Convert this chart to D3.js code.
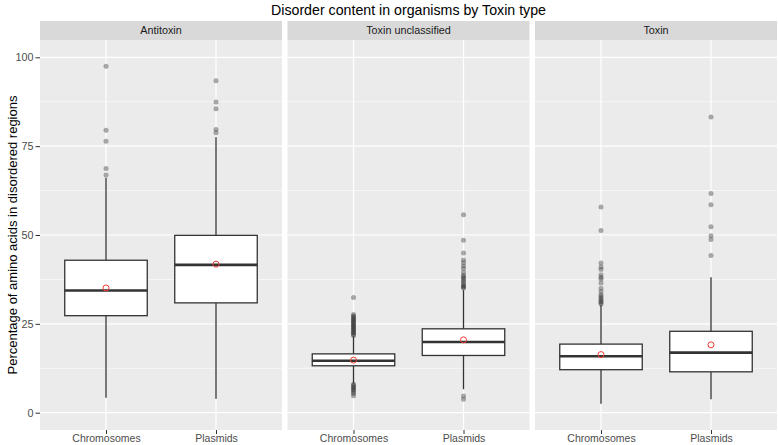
<!DOCTYPE html>
<html><head><meta charset="utf-8">
<script src="https://cdn.jsdelivr.net/npm/d3@7"></script>
<style>body{margin:0;background:#fff}svg{display:block}</style>
</head><body>
<svg id="chart" width="778" height="445"></svg>
<script>
// ---- data ----
const panels = ["Antitoxin", "Toxin unclassified", "Toxin"];
const groups = ["Chromosomes", "Plasmids"];
const yTicks = [0, 25, 50, 75, 100];
const yMinor = [12.5, 37.5, 62.5, 87.5];
// per panel: [Chromosomes, Plasmids]
const whiskerLow  = [[4.2, 3.9], [8.2, 6.6], [2.5, 3.8]];
const q1          = [[27.3, 30.9], [13.2, 16.1], [12.1, 11.5]];
const median      = [[34.4, 41.6], [14.6, 19.9], [15.9, 16.9]];
const q3          = [[42.9, 49.9], [16.55, 23.6], [19.3, 22.9]];
const whiskerHigh = [[66.1, 77.5], [21.5, 34.5], [30.3, 38.1]];
const means       = [[35.1, 41.8], [14.8, 20.5], [16.35, 19.1]];
const outliers = [
  [[66.9, 68.7, 76.4, 79.5, 97.5],
   [78.8, 79.7, 85.5, 87.4, 93.4]],
  [[21.7, 22.0, 22.4, 22.6, 23.0, 23.2, 23.6, 23.8, 24.1, 24.5, 24.7, 25.0, 25.4, 25.6, 26.0, 26.2, 26.6, 26.9, 27.2, 27.6, 32.4,
    8.0, 7.7, 7.3, 7.0, 6.6, 6.3, 5.8, 5.4, 4.8],
   [35.1, 35.3, 35.6, 35.9, 36.4, 36.9, 37.4, 37.8, 38.3, 38.7, 39.5, 40.6, 41.3, 42.2, 43.0, 44.9, 48.5, 55.7,
    4.7, 3.8]],
  [[30.6, 31.0, 31.3, 31.8, 32.2, 32.7, 33.2, 34.1, 35.0, 36.5, 37.6, 38.1, 38.8, 40.3, 41.0, 42.1, 51.3, 57.9],
   [44.2, 48.7, 49.8, 52.3, 58.5, 61.7, 83.2]]
];
const title = "Disorder content in organisms by Toxin type";
const yTitle = "Percentage of amino acids in disordered regions";

// ---- layout ----
const svg = d3.select("#chart");
const font = "'Liberation Sans', Arial, Helvetica, sans-serif";
const panelLeft0 = 40, panelW = 242, panelGap = 5.5;
const panelTop = 40, panelBottom = 430, stripTop = 21;

const y = d3.scaleLinear().domain([-4.87, 104.87]).range([panelBottom, panelTop]);
const x = d3.scalePoint().domain(groups).range([0, panelW]).padding(0.6);
const boxW = x.step() * 0.75;

svg.append("text").attr("x", panelLeft0 + (3 * panelW + 2 * panelGap) / 2).attr("y", 14.5)
  .attr("text-anchor", "middle").attr("font-family", font).attr("font-size", 14.2)
  .attr("fill", "#000").text(title);

svg.append("text")
  .attr("transform", `translate(14,${(panelTop + panelBottom) / 2}) rotate(-90)`)
  .attr("text-anchor", "middle").attr("dominant-baseline", "middle")
  .attr("font-family", font).attr("font-size", 13).attr("fill", "#000").text(yTitle);

// y axis
const yAxis = d3.axisLeft(y).tickValues(yTicks).tickSize(4.5).tickPadding(2);
const ya = svg.append("g").attr("transform", `translate(${panelLeft0},0)`).call(yAxis);
ya.select(".domain").remove();
ya.selectAll(".tick line").attr("stroke", "#333").attr("stroke-width", 1);
ya.selectAll(".tick text").attr("font-family", font).attr("font-size", 10.8).attr("fill", "#4d4d4d");

panels.forEach((p, pi) => {
  const left = panelLeft0 + pi * (panelW + panelGap);
  const g = svg.append("g").attr("transform", `translate(${left},0)`);
  // strip
  g.append("rect").attr("x", 0).attr("y", stripTop).attr("width", panelW).attr("height", panelTop - stripTop).attr("fill", "#d9d9d9");
  g.append("text").attr("x", panelW / 2).attr("y", (stripTop + panelTop) / 2).attr("dy", "0.35em")
    .attr("text-anchor", "middle").attr("font-family", font).attr("font-size", 10.8).attr("fill", "#1a1a1a").text(p);
  // background
  g.append("rect").attr("x", 0).attr("y", panelTop).attr("width", panelW).attr("height", panelBottom - panelTop).attr("fill", "#ebebeb");
  // grid
  g.selectAll(".minor").data(yMinor).enter().append("line")
    .attr("x1", 0).attr("x2", panelW).attr("y1", d => y(d)).attr("y2", d => y(d))
    .attr("stroke", "#fff").attr("stroke-width", 0.6);
  g.selectAll(".major").data(yTicks).enter().append("line")
    .attr("x1", 0).attr("x2", panelW).attr("y1", d => y(d)).attr("y2", d => y(d))
    .attr("stroke", "#fff").attr("stroke-width", 1.2);
  g.selectAll(".vmajor").data(groups).enter().append("line")
    .attr("x1", d => x(d)).attr("x2", d => x(d)).attr("y1", panelTop).attr("y2", panelBottom)
    .attr("stroke", "#fff").attr("stroke-width", 1.2);
  // x axis
  const xa = g.append("g").attr("transform", `translate(0,${panelBottom})`)
    .call(d3.axisBottom(x).tickSize(4).tickPadding(1));
  xa.select(".domain").remove();
  xa.selectAll(".tick line").attr("stroke", "#333").attr("stroke-width", 1);
  xa.selectAll(".tick text").attr("font-family", font).attr("font-size", 10.5).attr("fill", "#4d4d4d");

  groups.forEach((grp, gi) => {
    const cx = x(grp);
    // whiskers
    g.append("line").attr("x1", cx).attr("x2", cx).attr("y1", y(q3[pi][gi])).attr("y2", y(whiskerHigh[pi][gi]))
      .attr("stroke", "#333").attr("stroke-width", 1.3);
    g.append("line").attr("x1", cx).attr("x2", cx).attr("y1", y(q1[pi][gi])).attr("y2", y(whiskerLow[pi][gi]))
      .attr("stroke", "#333").attr("stroke-width", 1.3);
    // box
    g.append("rect").attr("x", cx - boxW / 2).attr("y", y(q3[pi][gi]))
      .attr("width", boxW).attr("height", y(q1[pi][gi]) - y(q3[pi][gi]))
      .attr("fill", "#fff").attr("stroke", "#333").attr("stroke-width", 1.3);
    g.append("line").attr("x1", cx - boxW / 2).attr("x2", cx + boxW / 2)
      .attr("y1", y(median[pi][gi])).attr("y2", y(median[pi][gi]))
      .attr("stroke", "#333").attr("stroke-width", 2.6);
    // outliers
    g.selectAll(null).data(outliers[pi][gi]).enter().append("circle")
      .attr("cx", cx).attr("cy", d => y(d)).attr("r", 2.5)
      .attr("fill", "#333").attr("fill-opacity", 0.4);
    // mean
    g.append("circle").attr("cx", cx).attr("cy", y(means[pi][gi])).attr("r", 3)
      .attr("fill", "none").attr("stroke", "#f03b32").attr("stroke-width", 1);
  });
});
</script>
</body></html>
